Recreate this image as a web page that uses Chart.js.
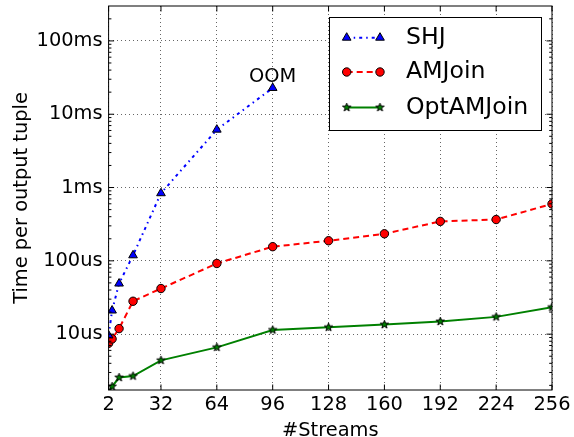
<!DOCTYPE html>
<html><head><meta charset="utf-8">
<script src="https://cdn.jsdelivr.net/npm/chart.js@4/dist/chart.umd.min.js"></script>
<style>html,body{margin:0;padding:0;background:#fff;}#wrap{width:574px;height:437px;}</style>
</head><body><div id="wrap"><canvas id="c" width="574" height="437"></canvas></div>
<script>
// ---- data (time per output tuple, in microseconds) ----
const streams = [2, 4, 8, 16, 32, 64, 96, 128, 160, 192, 224, 256];
const xTicks = [2, 32, 64, 96, 128, 160, 192, 224, 256];
const yTicks = [10, 100, 1000, 10000, 100000];
const yTickLabels = ['10us', '100us', '1ms', '10ms', '100ms'];
const shj = [9.6, 21, 49, 119, 836, 6160, 22800];
const amjoin = [7.5, 8.6, 11.9, 28.1, 41.9, 92, 156, 188, 234, 345, 366, 597];
const optamjoin = [1.6, 1.93, 2.56, 2.68, 4.39, 6.6, 11.4, 12.4, 13.5, 14.9, 17.2, 23.3];
const seriesNames = ['SHJ', 'AMJoin', 'OptAMJoin'];
const oomLabel = 'OOM';
const xTitle = '#Streams';
const yTitle = 'Time per output tuple';

const FAM = "'DejaVu Sans', sans-serif";
function pts(vals) { return vals.map((v, i) => ({x: streams[i], y: v})); }
function makeStar(r, fill) {
  const s = Math.ceil(r * 2 + 4);
  const c = document.createElement('canvas'); c.width = s; c.height = s;
  const g = c.getContext('2d'); g.translate(s / 2, s / 2);
  g.beginPath();
  for (let i = 0; i < 10; i++) {
    const rr = i % 2 ? r * 0.4 : r; const a = -Math.PI / 2 + i * Math.PI / 5;
    g.lineTo(rr * Math.cos(a), rr * Math.sin(a));
  }
  g.closePath(); g.fillStyle = fill; g.fill();
  g.strokeStyle = '#000'; g.lineWidth = 1; g.stroke();
  return c;
}
const star = makeStar(4.4, '#008000');

const decor = {
  id: 'decor',
  afterDatasetsDraw(chart) {
    const {ctx, chartArea: a, scales: {x, y}} = chart;
    ctx.save();
    ctx.strokeStyle = '#000'; ctx.lineWidth = 1; ctx.setLineDash([]);
    ctx.beginPath();
    xTicks.forEach(v => {
      const px = x.getPixelForValue(v);
      ctx.moveTo(px, a.bottom); ctx.lineTo(px, a.bottom - 5.5);
      ctx.moveTo(px, a.top); ctx.lineTo(px, a.top + 5.5);
    });
    for (let d = -1; d <= 6; d++) {
      for (let m = 1; m < 10; m++) {
        const v = m * Math.pow(10, d);
        if (v < y.min || v > y.max) continue;
        const py = y.getPixelForValue(v);
        const len = m === 1 ? 5.5 : 2.8;
        ctx.moveTo(a.left, py); ctx.lineTo(a.left + len, py);
        ctx.moveTo(a.right, py); ctx.lineTo(a.right - len, py);
      }
    }
    ctx.stroke();
    ctx.strokeRect(a.left, a.top, a.right - a.left, a.bottom - a.top);

    // OOM annotation at last SHJ point
    const last = shj.length - 1;
    ctx.fillStyle = '#000'; ctx.font = '19.4px ' + FAM;
    ctx.textAlign = 'center'; ctx.textBaseline = 'alphabetic';
    ctx.fillText(oomLabel, x.getPixelForValue(streams[last]), y.getPixelForValue(shj[last]) - 6);

    // legend
    const L = {left: 329.5, top: 17.5, right: 541.5, bottom: 130.5};
    ctx.fillStyle = '#fff';
    ctx.fillRect(L.left, L.top, L.right - L.left, L.bottom - L.top);
    ctx.strokeStyle = '#000'; ctx.lineWidth = 1;
    ctx.strokeRect(L.left, L.top, L.right - L.left, L.bottom - L.top);
    const rows = [37.7, 72, 107.5];
    chart.data.datasets.forEach((ds, i) => {
      const yy = rows[i];
      ctx.strokeStyle = ds.borderColor; ctx.lineWidth = ds.borderWidth;
      ctx.setLineDash(ds.borderDash || []);
      ctx.beginPath(); ctx.moveTo(346.7, yy); ctx.lineTo(380, yy); ctx.stroke();
      ctx.setLineDash([]);
      [346.7, 380].forEach(px => {
        ctx.fillStyle = ds.pointBackgroundColor; ctx.strokeStyle = ds.pointBorderColor;
        ctx.lineWidth = ds.pointBorderWidth;
        Chart.helpers.drawPoint(ctx, {pointStyle: ds.pointStyle, radius: ds.pointRadius, borderWidth: ds.pointBorderWidth, rotation: 0}, px, yy);
      });
      ctx.fillStyle = '#000'; ctx.font = '23.6px ' + FAM;
      ctx.textAlign = 'left'; ctx.textBaseline = 'middle';
      ctx.fillText(ds.label, 406, yy);
    });
    ctx.restore();
  }
};

new Chart(document.getElementById('c'), {
  type: 'line',
  data: {
    datasets: [
      {label: seriesNames[0], data: pts(shj), borderColor: '#0000ff', borderWidth: 2, borderDash: [3, 4, 1.5, 4],
       pointStyle: 'triangle', pointRadius: 5, pointBackgroundColor: '#0000ff', pointBorderColor: '#000', pointBorderWidth: 1, clip: 0},
      {label: seriesNames[1], data: pts(amjoin), borderColor: '#ff0000', borderWidth: 2, borderDash: [6, 4],
       pointStyle: 'circle', pointRadius: 4.2, pointBackgroundColor: '#ff0000', pointBorderColor: '#000', pointBorderWidth: 1, clip: 0},
      {label: seriesNames[2], data: pts(optamjoin), borderColor: '#008000', borderWidth: 2, borderDash: [],
       pointStyle: star, pointRadius: 4.4, pointBackgroundColor: '#008000', pointBorderColor: '#000', pointBorderWidth: 1, clip: 0}
    ]
  },
  options: {
    responsive: false, animation: false, devicePixelRatio: 1,
    layout: {padding: {top: 5, right: 22, left: 0, bottom: 0}},
    plugins: {legend: {display: false}, tooltip: {enabled: false}},
    elements: {line: {tension: 0}},
    scales: {
      x: {
        type: 'linear', min: 2, max: 256,
        afterBuildTicks: s => { s.ticks = xTicks.map(v => ({value: v})); },
        afterFit: s => { s.height = 47; s.paddingLeft = 0; s.paddingRight = 0; },
        ticks: {font: {family: FAM, size: 19.4}, color: '#000', padding: 3, maxRotation: 0, autoSkip: false, callback: v => String(v)},
        grid: {color: 'rgba(0,0,0,0.6)', lineWidth: 1, drawTicks: false},
        border: {display: false, dash: [1, 3]},
        title: {display: true, text: xTitle, color: '#000', font: {family: FAM, size: 19.4}, padding: {top: 0, bottom: -6}}
      },
      y: {
        type: 'logarithmic', min: 1.73, max: 299400,
        afterBuildTicks: s => { s.ticks = yTicks.map(v => ({value: v})); },
        afterFit: s => { s.width = 108.6; s.paddingTop = 0; s.paddingBottom = 0; },
        ticks: {font: {family: FAM, size: 19.4}, color: '#000', padding: 6, autoSkip: false,
                callback: v => { const i = yTicks.indexOf(v); return i >= 0 ? yTickLabels[i] : ''; }},
        grid: {color: 'rgba(0,0,0,0.6)', lineWidth: 1, drawTicks: false},
        border: {display: false, dash: [1, 3]},
        title: {display: true, text: yTitle, color: '#000', font: {family: FAM, size: 19.4}, padding: {top: 10.3, bottom: 0}}
      }
    }
  },
  plugins: [decor]
});
</script></body></html>
